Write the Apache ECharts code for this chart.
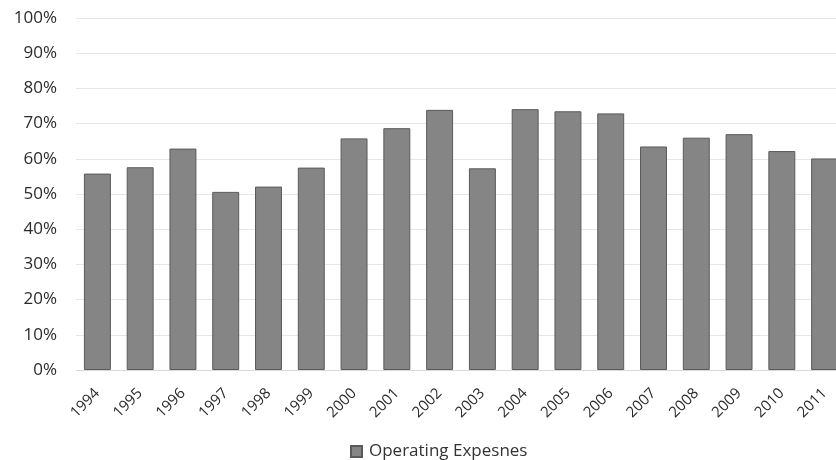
<!DOCTYPE html>
<html>
<head>
<meta charset="utf-8">
<script src="https://cdn.jsdelivr.net/npm/echarts@6/dist/echarts.min.js"></script>
<style>html,body{margin:0;padding:0;background:#fff;}#c{width:836px;height:460px;}</style>
</head>
<body>
<div id="c"></div>
<script>
const categories = ['1994','1995','1996','1997','1998','1999','2000','2001','2002','2003','2004','2005','2006','2007','2008','2009','2010','2011'];
const operatingExpenses = [55.8, 57.6, 62.9, 50.6, 52.1, 57.5, 65.8, 68.7, 73.9, 57.3, 74.1, 73.5, 72.9, 63.5, 66.0, 67.0, 62.2, 60.1];
const seriesName = 'Operating Expesnes';

const chart = echarts.init(document.getElementById('c'));
chart.setOption({
  animation: false,
  backgroundColor: '#ffffff',
  textStyle: { fontFamily: 'Open Sans' },
  grid: { left: 76, width: 770, top: 18, bottom: 90, containLabel: false, outerBoundsMode: 'none' },
  legend: {
    data: [seriesName],
    top: 438,
    left: 345,
    icon: 'rect',
    itemWidth: 11,
    itemHeight: 11,
    itemGap: 8,
    textStyle: { fontSize: 17, color: '#333333', fontFamily: 'Open Sans', padding: [0, 0, 0, 2] }
  },
  xAxis: {
    type: 'category',
    data: categories,
    axisLine: { show: true, lineStyle: { color: '#d9d9d9' } },
    axisTick: { show: false },
    axisLabel: { rotate: 45, margin: 21, fontSize: 15, color: '#2b2b2b', fontFamily: 'Open Sans', interval: 0 }
  },
  yAxis: {
    type: 'value',
    min: 0,
    max: 100,
    interval: 10,
    axisLine: { show: false },
    axisTick: { show: false },
    axisLabel: { formatter: '{value}%', fontSize: 17, color: '#2b2b2b', margin: 19, fontFamily: 'Open Sans' },
    splitLine: { lineStyle: { color: '#e6e6e6' } }
  },
  series: [{
    name: seriesName,
    type: 'bar',
    data: operatingExpenses,
    barCategoryGap: '37%',
    itemStyle: { color: '#858585', borderColor: '#5a5a5a', borderWidth: 1 }
  }]
});
</script>
</body>
</html>
